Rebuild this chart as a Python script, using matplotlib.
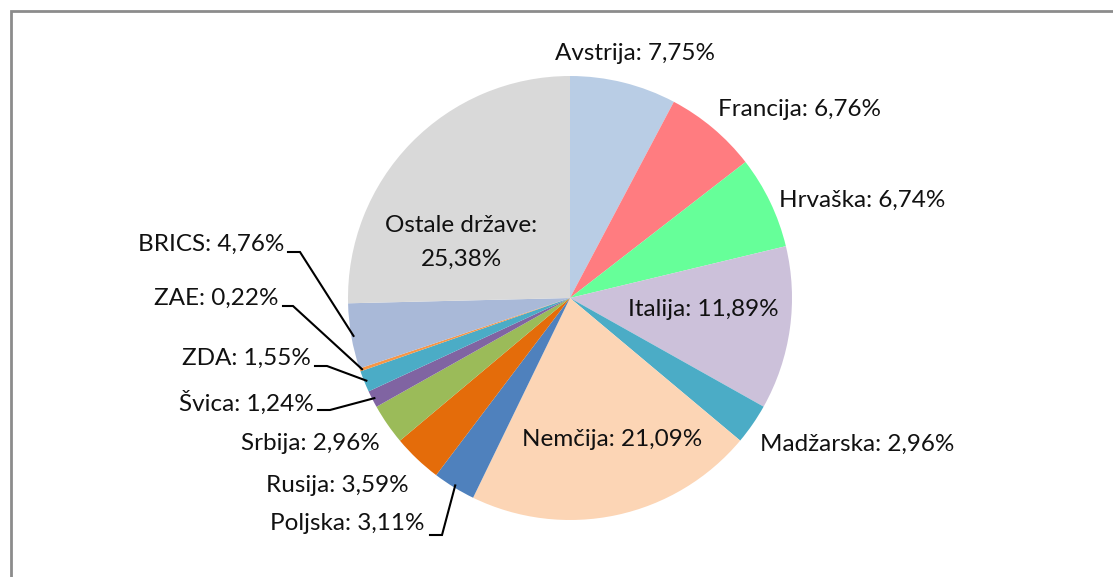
import numpy as np
import matplotlib
matplotlib.use("Agg")
import matplotlib.pyplot as plt
from matplotlib.patches import Rectangle

plt.rcParams["font.family"] = ["Lato", "DejaVu Sans"]

LABELS = ["Avstrija", "Francija", "Hrvaška", "Italija", "Madžarska", "Nemčija",
          "Poljska", "Rusija", "Srbija", "Švica", "ZDA", "ZAE", "BRICS", "Ostale države"]
SHARES = [7.75, 6.76, 6.74, 11.89, 2.96, 21.09, 3.11, 3.59, 2.96, 1.24, 1.55, 0.22, 4.76, 25.38]
COLORS = ["#b9cde5", "#ff7c80", "#66ff99", "#ccc1da", "#4bacc6", "#fcd5b5", "#4f81bd",
          "#e46c0a", "#9bbb59", "#8064a2", "#4bacc6", "#f79646", "#a9b9d8", "#d9d9d9"]

W, H = 1113, 577
CX, CY, R = 570, 577 - 298, 222

# label anchor (pixel, y from top), horizontal alignment, leader elbow (or None)
LABEL_POS = {
    "Avstrija":      ((635, 54), "center", None),
    "Francija":      ((800, 110), "center", None),
    "Hrvaška":       ((862, 200), "center", None),
    "Italija":       ((703, 309), "center", None),
    "Madžarska":     ((857, 444), "center", None),
    "Nemčija":       ((612, 440), "center", None),
    "Poljska":       ((425, 524), "right", ((430, 535), (442, 535))),
    "Rusija":        ((409, 485), "right", None),
    "Srbija":        ((380, 443), "right", None),
    "Švica":         ((314, 403), "right", ((318, 410), (330, 410))),
    "ZDA":           ((311, 358), "right", ((315, 366), (327, 366))),
    "ZAE":           ((279, 298), "right", ((283, 306), (293, 306))),
    "BRICS":         ((284, 244), "right", ((288, 252), (300, 252))),
    "Ostale države": ((461, 242), "center", None),
}

fig = plt.figure(figsize=(W / 100, H / 100), dpi=100)
ax = fig.add_axes([0, 0, 1, 1])

wedges, _ = ax.pie(SHARES, colors=COLORS, startangle=90, counterclock=False,
                   center=(CX, CY), radius=R, frame=True,
                   wedgeprops=dict(linewidth=0))
ax.set_xlim(0, W)
ax.set_ylim(0, H)
ax.set_aspect("equal")
ax.axis("off")

# frame border (runs off the right and bottom edges)
ax.add_patch(Rectangle((11, -20), W + 20, H - 11 + 20, fill=False,
                       edgecolor="#8c8c8c", linewidth=2))

for w, lab, val in zip(wedges, LABELS, SHARES):
    (px, py), ha, elbow = LABEL_POS[lab]
    val_txt = f"{val:.2f}".replace(".", ",") + "%"
    txt = f"Ostale države:\n{val_txt}" if lab == "Ostale države" else f"{lab}: {val_txt}"
    ax.text(px, H - py, txt, ha=ha, va="center", fontsize=17.5, color="#111111",
            linespacing=1.75)
    if elbow is not None:
        theta = np.deg2rad((w.theta1 + w.theta2) / 2)
        ex = CX + R * 0.99 * np.cos(theta)
        ey = CY + R * 0.99 * np.sin(theta)
        (x0, y0), (x1, y1) = elbow
        ax.plot([x0, x1, ex], [H - y0, H - y1, ey], color="black", linewidth=1.5,
                solid_joinstyle="miter")

fig.savefig("out.png", dpi=100)
